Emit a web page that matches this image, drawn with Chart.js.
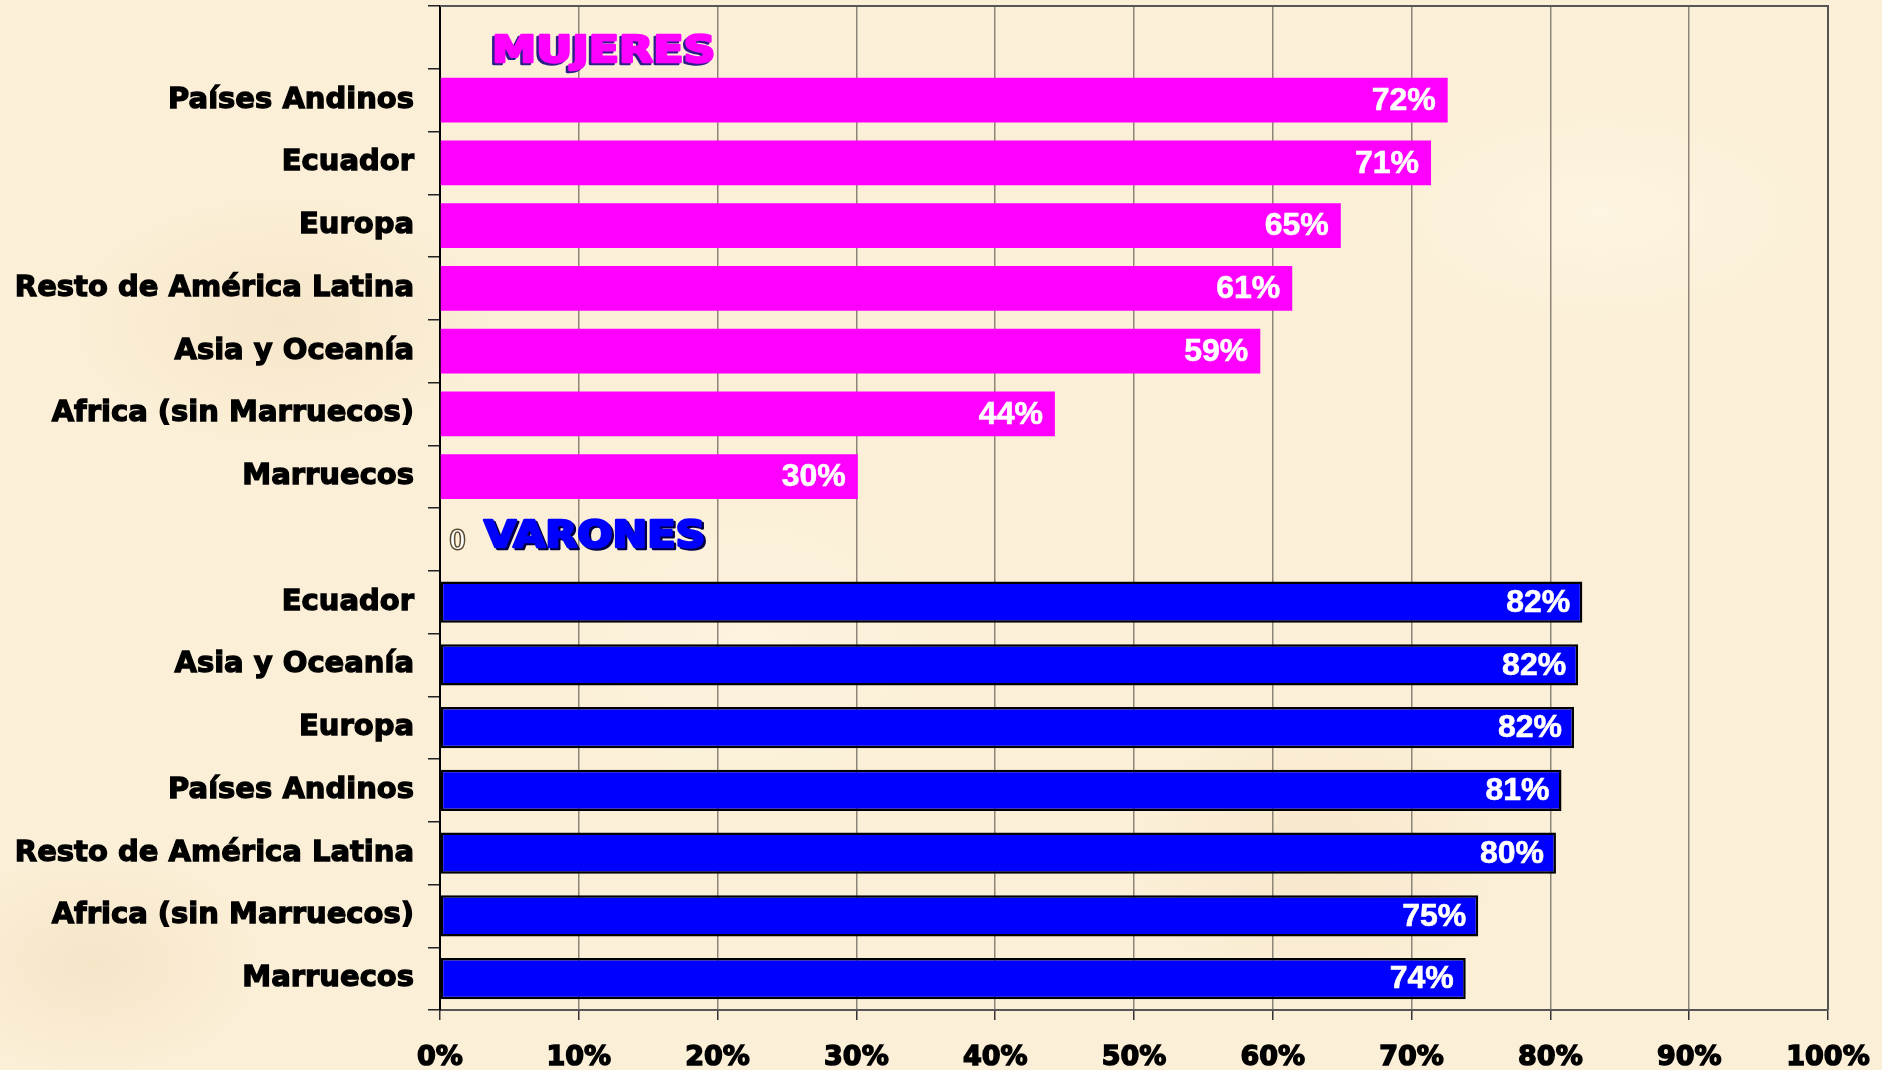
<!DOCTYPE html>
<html><head><meta charset="utf-8">
<script src="https://cdn.jsdelivr.net/npm/chart.js@4/dist/chart.umd.min.js"></script>
<style>
html,body{margin:0;padding:0;width:1882px;height:1070px;overflow:hidden;}
body{
  background-color:#FBEFD7;
  background-image:
    radial-gradient(ellipse 300px 180px at 15% 30%, rgba(240,220,185,0.45), rgba(240,220,185,0) 70%),
    radial-gradient(ellipse 260px 200px at 70% 80%, rgba(242,222,188,0.45), rgba(242,222,188,0) 70%),
    radial-gradient(ellipse 320px 160px at 85% 20%, rgba(255,248,232,0.6), rgba(255,248,232,0) 70%),
    radial-gradient(ellipse 280px 220px at 40% 60%, rgba(255,247,230,0.5), rgba(255,247,230,0) 70%),
    radial-gradient(ellipse 240px 160px at 5% 90%, rgba(238,218,182,0.45), rgba(238,218,182,0) 70%);
}
#wrap{position:relative;width:1882px;height:1070px;}
</style></head>
<body><div id="wrap"><canvas id="c" width="1882" height="1070"></canvas></div>
<script>
// ---- data ----
const mujeresCategories = ["Países Andinos", "Ecuador", "Europa", "Resto de América Latina", "Asia y Oceanía", "Africa (sin Marruecos)", "Marruecos"];
const mujeresValues = [72.6, 71.4, 64.9, 61.4, 59.1, 44.3, 30.1];
const mujeresLabels = ["72%", "71%", "65%", "61%", "59%", "44%", "30%"];

const varonesCategories = ["Ecuador", "Asia y Oceanía", "Europa", "Países Andinos", "Resto de América Latina", "Africa (sin Marruecos)", "Marruecos"];
const varonesValues = [82.3, 82.0, 81.7, 80.8, 80.4, 74.8, 73.9];
const varonesLabels = ["82%", "82%", "82%", "81%", "80%", "75%", "74%"];

const sectionTitles = ["MUJERES", "VARONES"];
const varonesHeaderValue = 0;
const varonesHeaderLabel = "0";

const xTickValues = [0, 10, 20, 30, 40, 50, 60, 70, 80, 90, 100];
const xTickLabels = ["0%", "10%", "20%", "30%", "40%", "50%", "60%", "70%", "80%", "90%", "100%"];

// ---- build rows ----
const categories = [""].concat(mujeresCategories, [""], varonesCategories);
const nM = mujeresCategories.length;
const mujeresData = [null].concat(mujeresValues, [null], varonesCategories.map(() => null));
const varonesData = [null].concat(mujeresCategories.map(() => null), [varonesHeaderValue], varonesValues);
const mujeresText = [null].concat(mujeresLabels, [null], varonesCategories.map(() => null));
const varonesText = [null].concat(mujeresCategories.map(() => null), [varonesHeaderLabel], varonesLabels);
const titleRows = [0, nM + 1];

const labelFont = "bold 32px 'Liberation Sans', Arial, sans-serif";

const overlayPlugin = {
  id: 'overlay',
  beforeDatasetsDraw(chart) {
    const ctx = chart.ctx, a = chart.chartArea;
    ctx.save();
    ctx.strokeStyle = '#555';
    ctx.lineWidth = 2;
    ctx.beginPath();
    ctx.moveTo(a.left, a.top); ctx.lineTo(a.right, a.top); ctx.lineTo(a.right, a.bottom);
    ctx.stroke();
    ctx.restore();
  },
  afterDatasetsDraw(chart) {
    const ctx = chart.ctx, a = chart.chartArea;
    const ys = chart.scales.y;
    ctx.save();
    const texts = [mujeresText, varonesText];
    chart.data.datasets.forEach((ds, di) => {
      const meta = chart.getDatasetMeta(di);
      meta.data.forEach((el, i) => {
        const t = texts[di][i];
        if (t == null || ds.data[i] == null) return;
        if (ds.data[i] === 0) {
          ctx.font = "30px 'Liberation Serif', serif";
          ctx.textAlign = 'left';
          ctx.textBaseline = 'middle';
          ctx.lineWidth = 3;
          ctx.strokeStyle = '#5a4a30';
          ctx.strokeText(t, el.x + 10, el.y + 2);
          ctx.fillStyle = '#ffffff';
          ctx.fillText(t, el.x + 10, el.y + 2);
        } else {
          ctx.font = labelFont;
          ctx.textAlign = 'right';
          ctx.textBaseline = 'middle';
          ctx.fillStyle = '#ffffff';
          ctx.strokeStyle = '#ffffff';
          ctx.lineWidth = 0.6;
          ctx.strokeText(t, el.x - 12, el.y + 1);
          ctx.fillText(t, el.x - 12, el.y + 1);
        }
      });
    });
    // section titles
    const titleStyles = [
      {fill: '#FF00FF', shadow: '#2b1f8a', dx: -2, dy: 2, yoff: 15, x: 52, sx: 1.2},
      {fill: '#0000FF', shadow: '#000040', dx: 2, dy: 2, yoff: -2, x: 44, sx: 1.12}
    ];
    ctx.font = "bold 37px 'DejaVu Sans', sans-serif";
    ctx.textAlign = 'left';
    ctx.textBaseline = 'middle';
    ctx.lineJoin = 'round';
    titleRows.forEach((r, k) => {
      const s = titleStyles[k];
      const y = ys.getPixelForValue(r) + s.yoff;
      const x = a.left + s.x;
      ctx.save();
      ctx.translate(x, y);
      ctx.scale(s.sx, 1);
      ctx.lineWidth = 2.5;
      ctx.fillStyle = s.shadow; ctx.strokeStyle = s.shadow;
      ctx.strokeText(sectionTitles[k], s.dx, s.dy);
      ctx.fillText(sectionTitles[k], s.dx, s.dy);
      ctx.fillStyle = s.fill; ctx.strokeStyle = s.fill;
      ctx.strokeText(sectionTitles[k], 0, 0);
      ctx.fillText(sectionTitles[k], 0, 0);
      ctx.restore();
    });
    ctx.restore();
  }
};

new Chart(document.getElementById('c'), {
  type: 'bar',
  data: {
    labels: categories,
    datasets: [
      {
        label: 'Mujeres', data: mujeresData,
        backgroundColor: '#FF00FF', borderWidth: 0,
        grouped: false, barPercentage: 0.71, categoryPercentage: 1
      },
      {
        label: 'Varones', data: varonesData,
        backgroundColor: '#0000FF', borderColor: '#000000', borderWidth: 2.5, borderSkipped: false,
        grouped: false, barPercentage: 0.655, categoryPercentage: 1
      }
    ]
  },
  options: {
    indexAxis: 'y',
    responsive: false,
    animation: false,
    devicePixelRatio: 1,
    layout: {padding: {top: 6, right: 54, left: 0, bottom: 0}},
    plugins: {legend: {display: false}, tooltip: {enabled: false}, title: {display: false}},
    scales: {
      x: {
        type: 'linear', min: 0, max: 100,
        afterBuildTicks(scale) { scale.ticks = xTickValues.map(v => ({value: v})); },
        afterFit(scale) { scale.height = 60; scale.paddingLeft = 0; scale.paddingRight = 0; },
        ticks: {
          callback: (v) => xTickLabels[xTickValues.indexOf(v)],
          font: {family: "'DejaVu Sans', sans-serif", weight: 'bold', size: 27},
          color: '#000', padding: 22, maxRotation: 0,
          textStrokeColor: '#000', textStrokeWidth: 1.5
        },
        grid: {color: '#8c8578', lineWidth: 1.5, tickLength: 10, tickColor: '#333', tickWidth: 1.5},
        border: {color: '#555', width: 2}
      },
      y: {
        type: 'category',
        afterFit(scale) { scale.width = 440; scale.paddingTop = 0; scale.paddingBottom = 0; },
        ticks: {
          font: {family: "'DejaVu Sans', sans-serif", weight: 'bold', size: 29},
          color: '#000', padding: 14,
          textStrokeColor: '#000', textStrokeWidth: 1.3
        },
        grid: {offset: true, drawOnChartArea: false, tickLength: 12, color: '#222', lineWidth: 1.5},
        border: {color: '#000', width: 2}
      }
    }
  },
  plugins: [overlayPlugin]
});
</script>
</body></html>
